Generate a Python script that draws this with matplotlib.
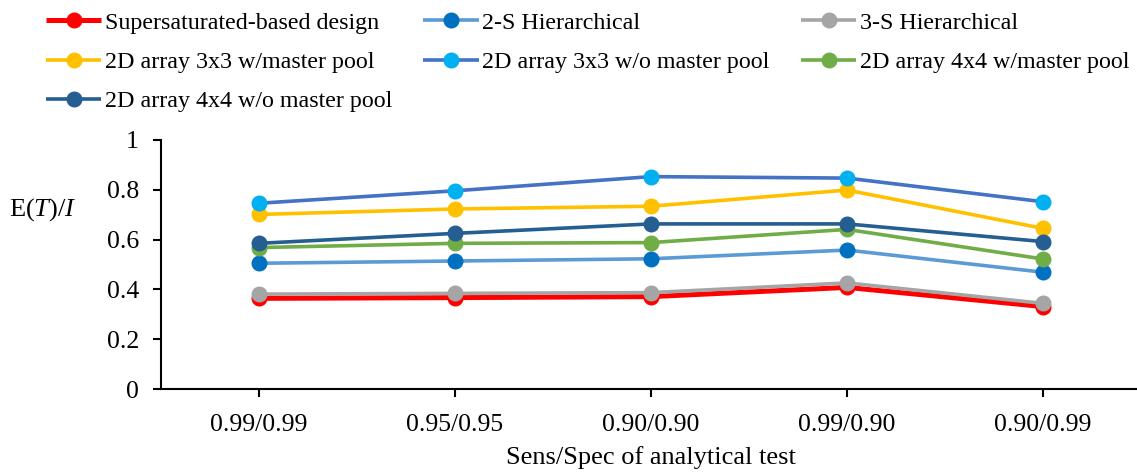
import matplotlib.pyplot as plt

plt.rcParams['font.family'] = 'Liberation Serif'
plt.rcParams['mathtext.fontset'] = 'custom'
plt.rcParams['mathtext.rm'] = 'Liberation Serif'
plt.rcParams['mathtext.it'] = 'Liberation Serif:italic'

categories = ['0.99/0.99', '0.95/0.95', '0.90/0.90', '0.99/0.90', '0.90/0.99']

supersat = [0.364, 0.367, 0.371, 0.408, 0.331]
hier_2s = [0.505, 0.514, 0.523, 0.558, 0.469]
hier_3s = [0.381, 0.384, 0.387, 0.426, 0.344]
arr3_w = [0.701, 0.723, 0.734, 0.799, 0.645]
arr3_wo = [0.746, 0.796, 0.853, 0.847, 0.752]
arr4_w = [0.568, 0.585, 0.588, 0.641, 0.522]
arr4_wo = [0.585, 0.625, 0.663, 0.663, 0.592]

series = [
    ('Supersaturated-based design', supersat, '#FF0000', '#FF0000', 3.6),
    ('2-S Hierarchical', hier_2s, '#5B9BD5', '#0070C0', 2.6),
    ('3-S Hierarchical', hier_3s, '#A5A5A5', '#A5A5A5', 2.6),
    ('2D array 3x3 w/master pool', arr3_w, '#FFC000', '#FFC000', 2.6),
    ('2D array 3x3 w/o master pool', arr3_wo, '#4472C4', '#00B0F0', 2.6),
    ('2D array 4x4 w/master pool', arr4_w, '#70AD47', '#70AD47', 2.6),
    ('2D array 4x4 w/o master pool', arr4_wo, '#255E91', '#255E91', 2.6),
]

W, H = 1137, 472
fig = plt.figure(figsize=(W / 100, H / 100), dpi=100)
ax = fig.add_axes([161 / W, 83 / H, 980 / W, 249 / H])

x = list(range(len(categories)))
handles = []
for name, vals, lc, mc, lw in series:
    h, = ax.plot(x, vals, color=lc, lw=lw, marker='o', markersize=10.5,
                 markerfacecolor=mc, markeredgecolor=mc, label=name,
                 solid_capstyle='butt', clip_on=False)
    handles.append(h)

ax.set_xlim(-0.5, 4.5)
ax.set_ylim(0, 1)
ax.set_yticks([0, 0.2, 0.4, 0.6, 0.8, 1.0])
ax.set_yticklabels(['0', '0.2', '0.4', '0.6', '0.8', '1'])
ax.set_xticks(x)
ax.set_xticklabels(categories)
ax.tick_params(axis='both', labelsize=18.5, width=1.5, length=6, direction='out')
ax.tick_params(axis='x', pad=12)
ax.tick_params(axis='y', pad=10)
ax.spines['top'].set_visible(False)
ax.spines['right'].set_visible(False)
for s in ['left', 'bottom']:
    ax.spines[s].set_linewidth(1.5)

ax.set_xlabel('Sens/Spec of analytical test', fontsize=19, labelpad=7)
fig.text(43 / W, 1 - 210 / H, r'E($\mathit{T}$)/$\mathit{I}$', fontsize=19,
         ha='center', va='center')

# matplotlib fills legend column by column, Excel row by row
order = [0, 3, 6, 1, 4, 2, 5]
fig.legend([handles[i] for i in order], [series[i][0] for i in order],
           ncol=3, loc='upper left', bbox_to_anchor=(34 / W, 1.0),
           frameon=False, fontsize=17.3, handlelength=2.3, handletextpad=0.15,
           columnspacing=1.3, labelspacing=0.72, borderaxespad=0.1)

fig.savefig('out.png', dpi=100)
